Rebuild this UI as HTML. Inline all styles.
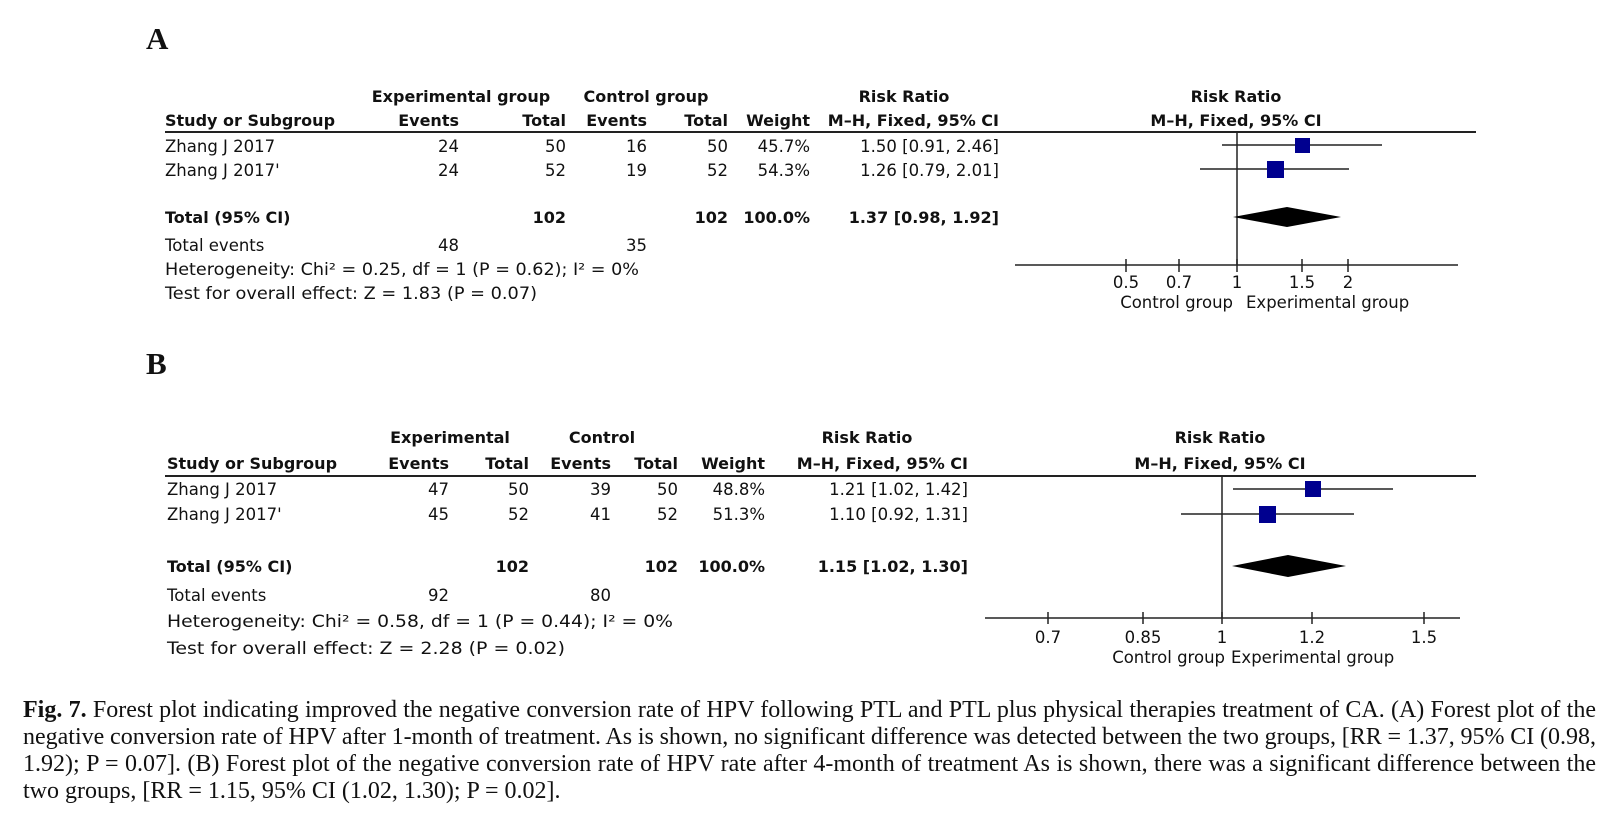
<!DOCTYPE html>
<html><head><meta charset="utf-8"><style>
html,body{margin:0;padding:0;background:#fff;}
body{width:1618px;height:819px;position:relative;overflow:hidden;}
svg{position:absolute;left:0;top:0;}
text{font-family:"DejaVu Sans","Liberation Sans",sans-serif;font-size:16.5px;fill:#111;}
.b{font-weight:bold;font-size:16px;}
.r{text-anchor:end;}
.c{text-anchor:middle;}
.L{font-family:"Liberation Serif",serif;font-size:31px;font-weight:bold;}
.cap{position:absolute;left:23px;width:1573px;font-family:"Liberation Serif",serif;font-size:24px;color:#111;line-height:27px;}
.cap div{text-align:justify;text-align-last:justify;white-space:nowrap;height:27px;word-spacing:-1px;}
.cap div.last{text-align-last:left;word-spacing:0;}
</style></head><body>
<svg width="1618" height="819" viewBox="0 0 1618 819">
<text class="L" x="146" y="49">A</text>
<text class="b c" x="461" y="102">Experimental group</text>
<text class="b c" x="646" y="102">Control group</text>
<text class="b c" x="904" y="102">Risk Ratio</text>
<text class="b c" x="1236" y="102">Risk Ratio</text>
<text class="b" x="165" y="126">Study or Subgroup</text>
<text class="b r" x="459" y="126">Events</text>
<text class="b r" x="566" y="126">Total</text>
<text class="b r" x="647" y="126">Events</text>
<text class="b r" x="728" y="126">Total</text>
<text class="b r" x="810" y="126">Weight</text>
<text class="b r" x="999" y="126">M–H, Fixed, 95% CI</text>
<text class="b c" x="1236" y="126">M–H, Fixed, 95% CI</text>
<line x1="165" y1="132" x2="1476" y2="132" stroke="#222" stroke-width="2"/>
<text x="165" y="152">Zhang J 2017</text>
<text class="r" x="459" y="152">24</text><text class="r" x="566" y="152">50</text>
<text class="r" x="647" y="152">16</text><text class="r" x="728" y="152">50</text>
<text class="r" x="810" y="152">45.7%</text><text class="r" x="999" y="152">1.50 [0.91, 2.46]</text>
<text x="165" y="176">Zhang J 2017'</text>
<text class="r" x="459" y="176">24</text><text class="r" x="566" y="176">52</text>
<text class="r" x="647" y="176">19</text><text class="r" x="728" y="176">52</text>
<text class="r" x="810" y="176">54.3%</text><text class="r" x="999" y="176">1.26 [0.79, 2.01]</text>
<text class="b" x="165" y="223">Total (95% CI)</text>
<text class="b r" x="566" y="223">102</text><text class="b r" x="728" y="223">102</text>
<text class="b r" x="810" y="223">100.0%</text><text class="b r" x="999" y="223">1.37 [0.98, 1.92]</text>
<text x="165" y="251">Total events</text>
<text class="r" x="459" y="251">48</text><text class="r" x="647" y="251">35</text>
<text x="165" y="275" textLength="474" lengthAdjust="spacingAndGlyphs">Heterogeneity: Chi² = 0.25, df = 1 (P = 0.62); I² = 0%</text>
<text x="165" y="299" textLength="372" lengthAdjust="spacingAndGlyphs">Test for overall effect: Z = 1.83 (P = 0.07)</text>
<line x1="1237" y1="132" x2="1237" y2="265" stroke="#222" stroke-width="1.5"/>
<line x1="1015" y1="265" x2="1458" y2="265" stroke="#222" stroke-width="1.5"/>
<g stroke="#222" stroke-width="1.5">
<line x1="1126" y1="259" x2="1126" y2="272"/><line x1="1179" y1="259" x2="1179" y2="272"/>
<line x1="1237" y1="259" x2="1237" y2="272"/><line x1="1302" y1="259" x2="1302" y2="272"/>
<line x1="1348" y1="259" x2="1348" y2="272"/>
<line x1="1222" y1="145" x2="1382" y2="145"/><line x1="1200" y1="169" x2="1349" y2="169"/>
</g>
<rect x="1295" y="138" width="15" height="15" fill="#00008f"/>
<rect x="1267" y="161" width="17" height="17" fill="#00008f"/>
<polygon points="1233,217 1287,207 1341,217 1287,227" fill="#000"/>
<text class="c" x="1126" y="288">0.5</text><text class="c" x="1179" y="288">0.7</text>
<text class="c" x="1237" y="288">1</text><text class="c" x="1302" y="288">1.5</text>
<text class="c" x="1348" y="288">2</text>
<text class="r" x="1233" y="308">Control group</text>
<text x="1246" y="308">Experimental group</text>

<text class="L" x="146" y="374">B</text>
<text class="b c" x="450" y="443">Experimental</text>
<text class="b c" x="602" y="443">Control</text>
<text class="b c" x="867" y="443">Risk Ratio</text>
<text class="b c" x="1220" y="443">Risk Ratio</text>
<text class="b" x="167" y="469">Study or Subgroup</text>
<text class="b r" x="449" y="469">Events</text>
<text class="b r" x="529" y="469">Total</text>
<text class="b r" x="611" y="469">Events</text>
<text class="b r" x="678" y="469">Total</text>
<text class="b r" x="765" y="469">Weight</text>
<text class="b r" x="968" y="469">M–H, Fixed, 95% CI</text>
<text class="b c" x="1220" y="469">M–H, Fixed, 95% CI</text>
<line x1="165" y1="476" x2="1476" y2="476" stroke="#222" stroke-width="2"/>
<text x="167" y="495">Zhang J 2017</text>
<text class="r" x="449" y="495">47</text><text class="r" x="529" y="495">50</text>
<text class="r" x="611" y="495">39</text><text class="r" x="678" y="495">50</text>
<text class="r" x="765" y="495">48.8%</text><text class="r" x="968" y="495">1.21 [1.02, 1.42]</text>
<text x="167" y="520">Zhang J 2017'</text>
<text class="r" x="449" y="520">45</text><text class="r" x="529" y="520">52</text>
<text class="r" x="611" y="520">41</text><text class="r" x="678" y="520">52</text>
<text class="r" x="765" y="520">51.3%</text><text class="r" x="968" y="520">1.10 [0.92, 1.31]</text>
<text class="b" x="167" y="572">Total (95% CI)</text>
<text class="b r" x="529" y="572">102</text><text class="b r" x="678" y="572">102</text>
<text class="b r" x="765" y="572">100.0%</text><text class="b r" x="968" y="572">1.15 [1.02, 1.30]</text>
<text x="167" y="601">Total events</text>
<text class="r" x="449" y="601">92</text><text class="r" x="611" y="601">80</text>
<text x="167" y="627" textLength="506" lengthAdjust="spacingAndGlyphs">Heterogeneity: Chi² = 0.58, df = 1 (P = 0.44); I² = 0%</text>
<text x="167" y="654" textLength="398" lengthAdjust="spacingAndGlyphs">Test for overall effect: Z = 2.28 (P = 0.02)</text>
<line x1="1222" y1="476" x2="1222" y2="618" stroke="#222" stroke-width="1.5"/>
<line x1="985" y1="618" x2="1460" y2="618" stroke="#222" stroke-width="1.5"/>
<g stroke="#222" stroke-width="1.5">
<line x1="1048" y1="612" x2="1048" y2="624"/><line x1="1143" y1="612" x2="1143" y2="624"/>
<line x1="1222" y1="612" x2="1222" y2="624"/><line x1="1312" y1="612" x2="1312" y2="624"/>
<line x1="1424" y1="612" x2="1424" y2="624"/>
<line x1="1233" y1="489" x2="1393" y2="489"/><line x1="1181" y1="514" x2="1354" y2="514"/>
</g>
<rect x="1305" y="481" width="16" height="16" fill="#00008f"/>
<rect x="1259" y="506" width="17" height="17" fill="#00008f"/>
<polygon points="1232,566 1288,555 1346,566 1288,577" fill="#000"/>
<text class="c" x="1048" y="643">0.7</text><text class="c" x="1143" y="643">0.85</text>
<text class="c" x="1222" y="643">1</text><text class="c" x="1312" y="643">1.2</text>
<text class="c" x="1424" y="643">1.5</text>
<text class="r" x="1225" y="663">Control group</text>
<text x="1231" y="663">Experimental group</text>
</svg>
<div class="cap" style="top:697px;">
<div><b>Fig. 7.</b> Forest plot indicating improved the negative conversion rate of HPV following PTL and PTL plus physical therapies treatment of CA. (A) Forest plot of the</div>
<div>negative conversion rate of HPV after 1-month of treatment. As is shown, no significant difference was detected between the two groups, [RR = 1.37, 95% CI (0.98,</div>
<div>1.92); P = 0.07]. (B) Forest plot of the negative conversion rate of HPV rate after 4-month of treatment As is shown, there was a significant difference between the</div>
<div class="last">two groups, [RR = 1.15, 95% CI (1.02, 1.30); P = 0.02].</div>
</div>
</body></html>
